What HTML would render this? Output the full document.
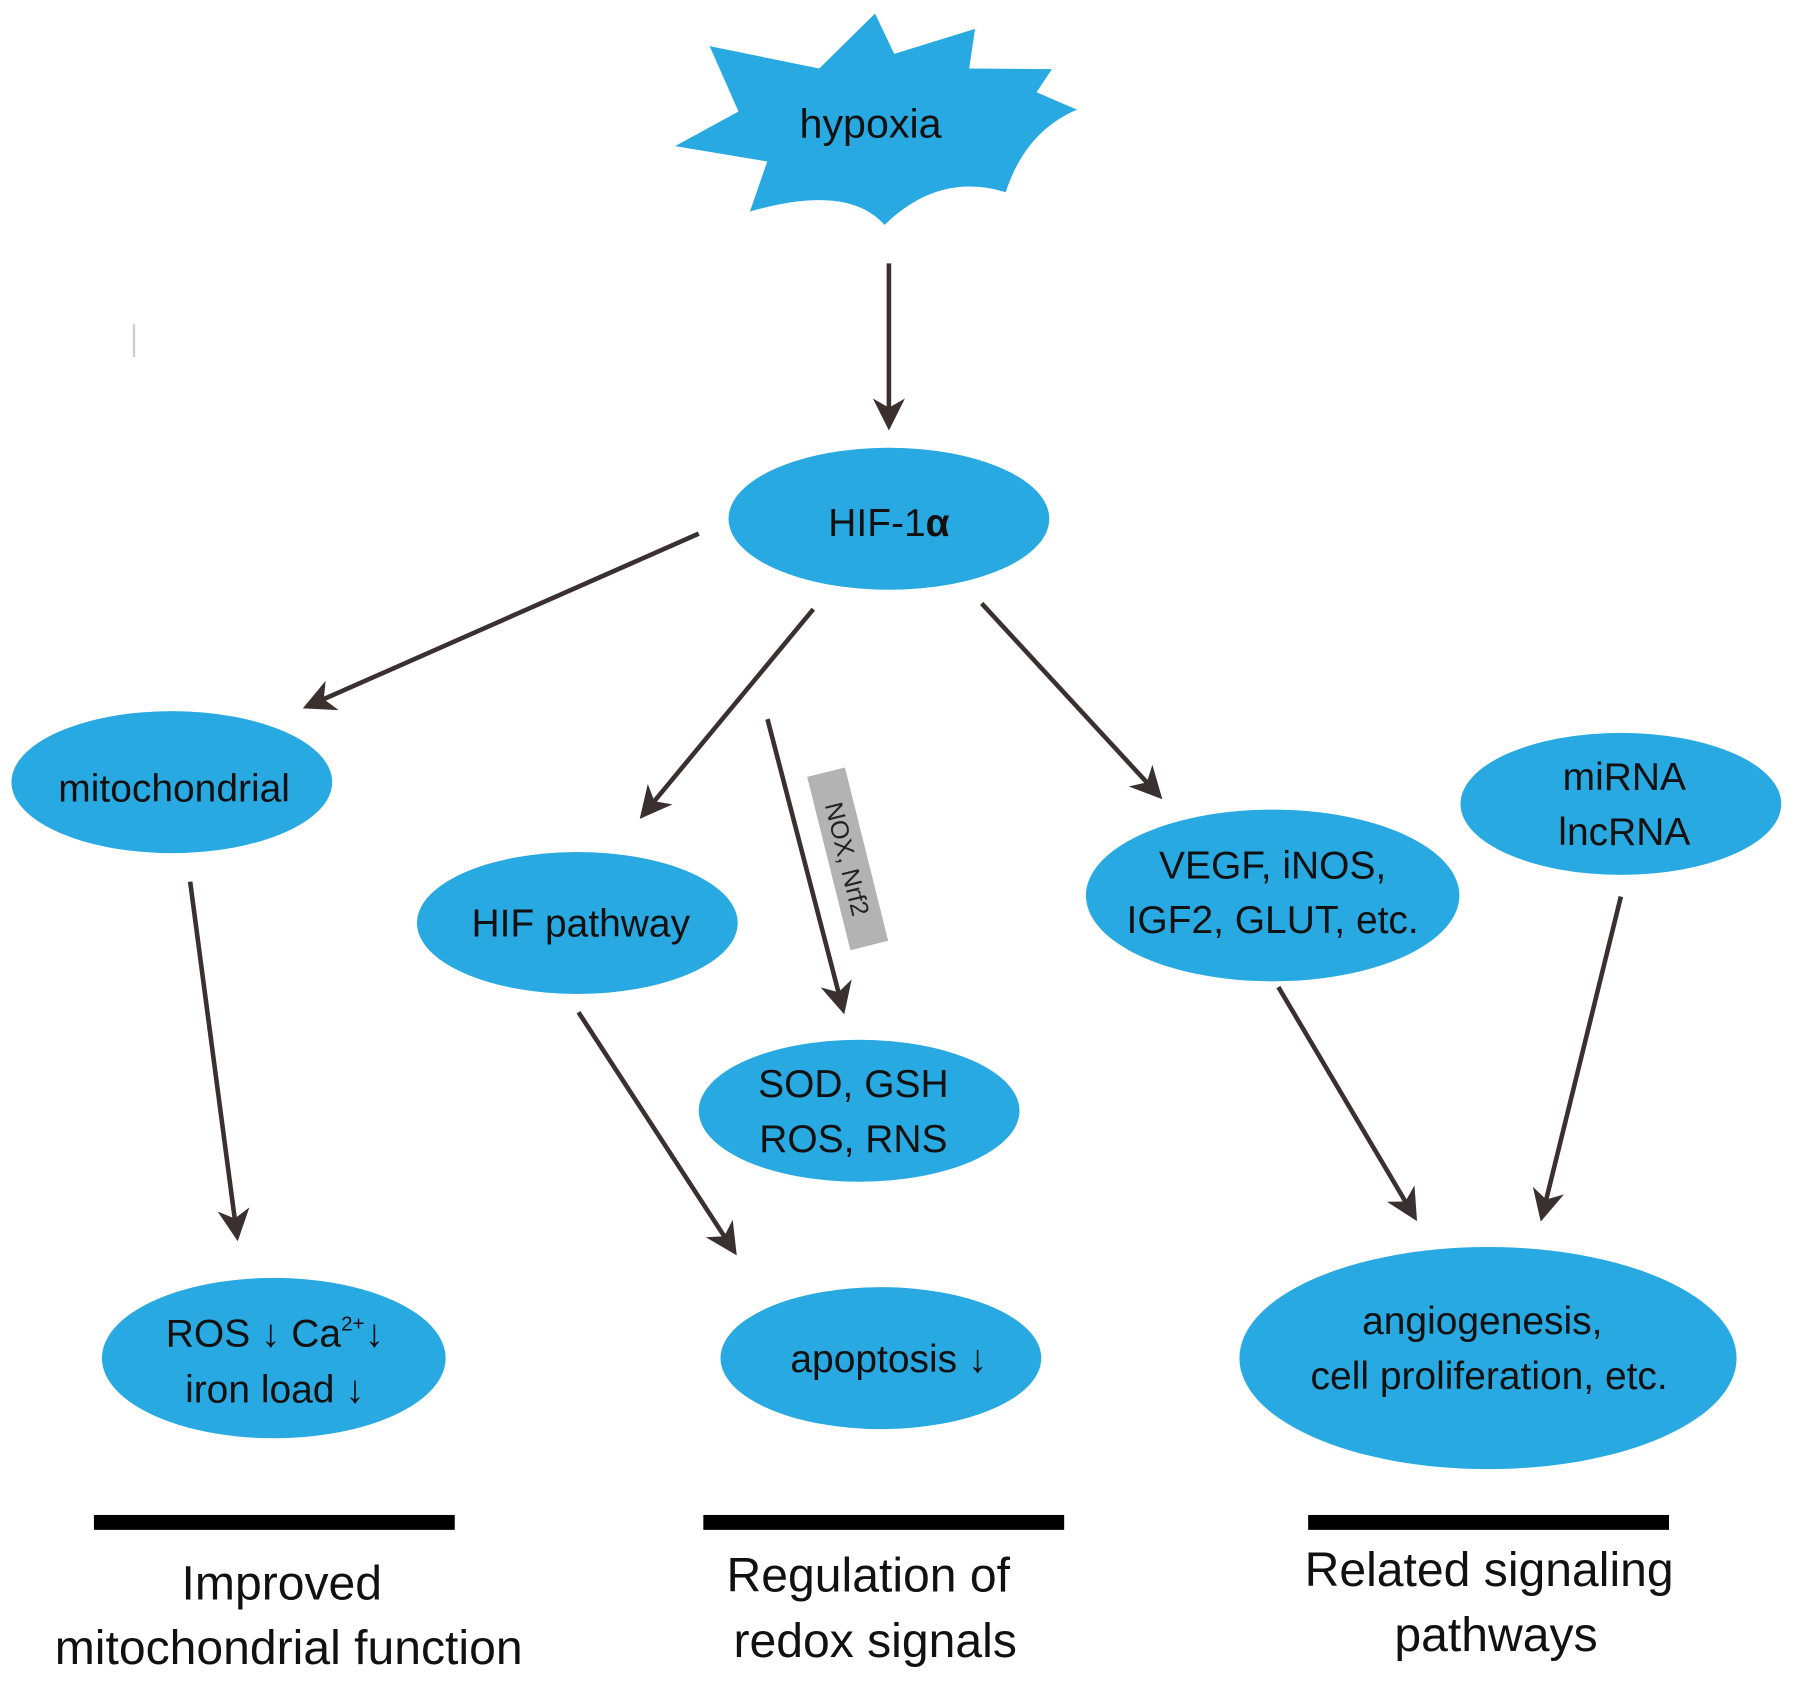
<!DOCTYPE html>
<html><head><meta charset="utf-8"><style>html,body{margin:0;padding:0;background:#fff}svg{display:block}</style></head>
<body>
<svg width="1795" height="1681" viewBox="0 0 1567 1468" preserveAspectRatio="none" xmlns="http://www.w3.org/2000/svg" font-family="Liberation Sans, sans-serif">
<defs><marker id="a" markerWidth="8" markerHeight="8" refX="6" refY="4" orient="auto" markerUnits="strokeWidth"><path d="M0,0.5 L7,4 L0,7.5 L2,4 Z" fill="#3a3030"/></marker></defs>
<rect width="1567" height="1468" fill="#fff"/>
<path d="M619.5,40.3 L715.2,59.8 L763.9,11.8 L780.6,47 L851.2,25.2 L846.1,59.8 L918.3,60.4 L904.9,80.6 L940.1,95.7 Q895,115 878,167.9 Q820,150 772.2,196.4 Q740,160 654.7,184.7 L669.8,141 L589.3,127.6 L644.7,97.4 Z" fill="#29a9e1"/>
<text x="760" y="120" font-size="36" text-anchor="middle" fill="#111">hypoxia</text>
<line x1="117" y1="283" x2="117" y2="312" stroke="#ccc" stroke-width="2"/>
<g stroke="#3a3030" stroke-width="4" marker-end="url(#a)" fill="none">
<line x1="776" y1="230" x2="776" y2="372"/>
<line x1="610" y1="466" x2="268" y2="617"/>
<line x1="710" y1="532" x2="561" y2="712"/>
<line x1="670" y1="628" x2="736" y2="882"/>
<line x1="857" y1="527" x2="1012" y2="695"/>
<line x1="166" y1="770" x2="207" y2="1080"/>
<line x1="505" y1="884" x2="641" y2="1093"/>
<line x1="1116" y1="862" x2="1235" y2="1063"/>
<line x1="1415" y1="783" x2="1346" y2="1063"/>
</g>
<g fill="#29a9e1">
<ellipse cx="776" cy="453" rx="140" ry="62"/>
<ellipse cx="150" cy="683" rx="140" ry="62"/>
<ellipse cx="504" cy="806" rx="140" ry="62"/>
<ellipse cx="750" cy="970" rx="140" ry="62"/>
<ellipse cx="1111" cy="782" rx="163" ry="75"/>
<ellipse cx="1415" cy="702" rx="140" ry="62"/>
<ellipse cx="239" cy="1186" rx="150" ry="70"/>
<ellipse cx="769" cy="1186" rx="140" ry="62"/>
<ellipse cx="1299" cy="1186" rx="217" ry="97"/>
</g>
<g transform="translate(740,750) rotate(76)">
<rect x="-78" y="-17" width="156" height="34" fill="#b3b3b3"/>
<text x="0" y="8" font-size="22" text-anchor="middle" fill="#222">NOX, Nrf2</text>
</g>
<g font-size="34" text-anchor="middle" fill="#111">
<text x="776" y="468">HIF-1<tspan font-weight="bold">α</tspan></text>
<text x="152" y="700">mitochondrial</text>
<text x="507" y="818">HIF pathway</text>
<text x="745" y="958">SOD, GSH</text>
<text x="745" y="1006">ROS, RNS</text>
<text x="1111" y="767">VEGF, iNOS,</text>
<text x="1111" y="815">IGF2, GLUT, etc.</text>
<text x="1418" y="690">miRNA</text>
<text x="1418" y="738">lncRNA</text>
<text x="240" y="1176">ROS ↓ Ca<tspan font-size="18" dy="-14">2+</tspan><tspan dy="14">↓</tspan></text>
<text x="240" y="1225">iron load ↓</text>
<text x="776" y="1198">apoptosis ↓</text>
<text x="1294" y="1165">angiogenesis,</text>
<text x="1300" y="1213">cell proliferation, etc.</text>
</g>
<g fill="#000">
<rect x="82" y="1323" width="315" height="13"/>
<rect x="614" y="1323" width="315" height="13"/>
<rect x="1142" y="1323" width="315" height="13"/>
</g>
<g font-size="42" text-anchor="middle" fill="#111">
<text x="246" y="1397">Improved</text>
<text x="252" y="1453">mitochondrial function</text>
<text x="758" y="1390">Regulation of</text>
<text x="764" y="1447">redox signals</text>
<text x="1300" y="1385">Related signaling</text>
<text x="1306" y="1442">pathways</text>
</g>
</svg>
</body></html>
